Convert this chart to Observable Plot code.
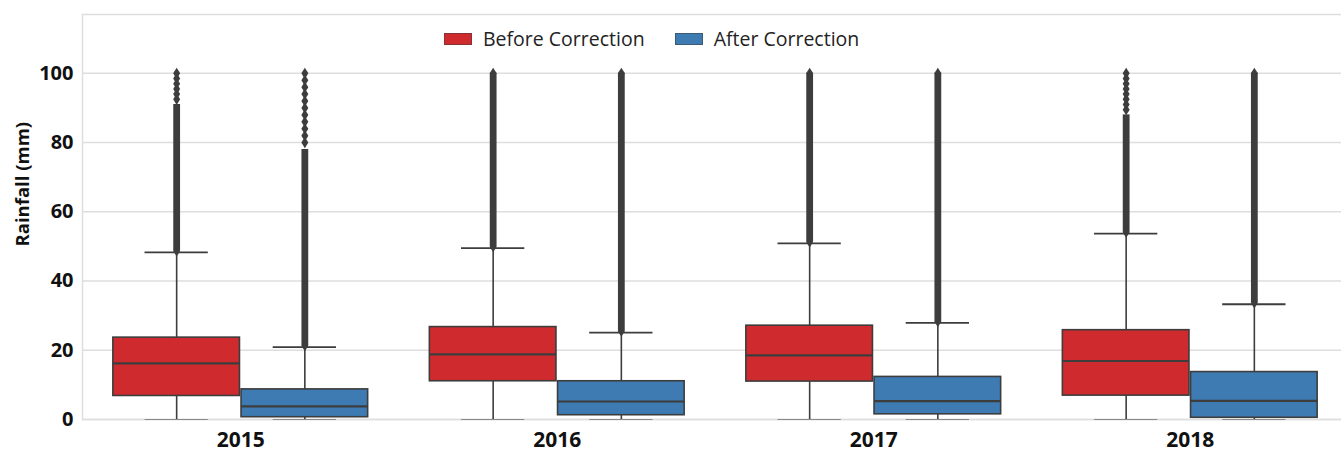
<!DOCTYPE html>
<html>
<head>
<meta charset="utf-8">
<script src="https://cdn.jsdelivr.net/npm/d3@7"></script>
<script src="https://cdn.jsdelivr.net/npm/@observablehq/plot@0.6"></script>
<style>
  html, body { margin: 0; padding: 0; background: #fff; overflow: hidden; }
  #wrap { position: relative; width: 1341px; height: 454px; overflow: hidden; }
  #wrap svg { max-width: none !important; display: block; }
  #legend { position: absolute; top: 25px; left: 444px; display: flex; align-items: center;
            font-family: "Open Sans", sans-serif; font-size: 19.5px; color: #222; }
  #legend .item { display: flex; align-items: center; margin-right: 30px; }
  #legend .sw { width: 28px; height: 12px; margin-right: 11px; box-sizing: border-box; border: 1px solid rgba(60,60,60,0.5); }
</style>
</head>
<body>
<div id="wrap"><div id="legend"></div></div>
<script>
// Yearly rainfall distributions, before and after bias correction
const years = ["2015", "2016", "2017", "2018"];
const series = ["Before Correction", "After Correction"];
const colors = ["#cf2b2f", "#3d7bb2"];

const beforeWhiskerLow = [0, 0, 0, 0];
const beforeQ1 = [6.8, 11.05, 10.96, 6.9];
const beforeMedian = [16.2, 18.8, 18.5, 16.9];
const beforeQ3 = [23.65, 26.7, 27.1, 25.8];
const beforeWhiskerHigh = [48.3, 49.5, 50.9, 53.7];

const afterWhiskerLow = [0, 0, 0, 0];
const afterQ1 = [0.66, 1.24, 1.5, 0.5];
const afterMedian = [3.8, 5.2, 5.3, 5.4];
const afterQ3 = [8.7, 11.05, 12.3, 13.7];
const afterWhiskerHigh = [20.9, 25.1, 27.9, 33.3];

// outliers: continuous run above the upper whisker, then isolated values up to the max
const beforeOutlierRunTop = [91, 100, 100, 88];
const afterOutlierRunTop = [78, 100, 100, 100];
const beforeOutliersSparse = [
  [92.5, 94, 95.5, 97, 98.5, 100],
  [100],
  [100],
  [89.5, 91, 92.5, 94, 95.5, 97, 98.5, 100]
];
const afterOutliersSparse = [
  [80, 82, 84, 86, 88, 90, 92, 94, 96, 98, 100],
  [100],
  [100],
  [100]
];

const yTicks = [0, 20, 40, 60, 80, 100];
const yLabel = "Rainfall (mm)";

// seaborn-style dodge: each hue takes 0.4 of the category width
const dodge = [-0.2025, 0.2025];
const halfWidth = 0.2;

const stats = [
  {low: beforeWhiskerLow, q1: beforeQ1, med: beforeMedian, q3: beforeQ3, high: beforeWhiskerHigh, runTop: beforeOutlierRunTop, sparse: beforeOutliersSparse},
  {low: afterWhiskerLow, q1: afterQ1, med: afterMedian, q3: afterQ3, high: afterWhiskerHigh, runTop: afterOutlierRunTop, sparse: afterOutliersSparse}
];

const boxes = [];
const fliers = [];
years.forEach((year, i) => {
  series.forEach((name, s) => {
    const st = stats[s];
    const cx = i + dodge[s];
    const row = {
      year, series: name, cx,
      x1: cx - halfWidth, x2: cx + halfWidth,
      low: st.low[i], q1: st.q1[i], med: st.med[i], q3: st.q3[i], high: st.high[i],
      runStart: st.high[i] + 0.4, runTop: st.runTop[i]
    };
    boxes.push(row);
    fliers.push({cx, value: row.runStart});
    st.sparse[i].forEach(v => fliers.push({cx, value: v}));
  });
});

// thin diamond flier marker
const thinDiamond = {
  draw(context, size) {
    const r = Math.sqrt(size / Math.PI);
    context.moveTo(0, -1.6 * r);
    context.lineTo(r, 0);
    context.lineTo(0, 1.6 * r);
    context.lineTo(-r, 0);
    context.closePath();
  }
};

const ink = "#3d3d3d";
const gridColor = "#dedede";

const chart = Plot.plot({
  width: 1348,
  height: 454,
  marginTop: 14,
  marginBottom: 35,
  marginLeft: 82,
  marginRight: 0,
  style: {fontFamily: "'Open Sans', sans-serif", background: "transparent", overflow: "hidden", maxWidth: "none"},
  x: {domain: [-0.5, years.length - 0.5], axis: null},
  y: {domain: [0, 117], axis: null},
  color: {domain: series, range: colors},
  marks: [
    Plot.gridY(yTicks, {stroke: gridColor, strokeOpacity: 1, strokeWidth: 1.5}),
    Plot.frame({stroke: gridColor, strokeWidth: 1.5}),
    Plot.axisY(yTicks, {tickSize: 0, tickPadding: 9, fontSize: 20, fontWeight: "bold", fill: "#111", label: null}),
    Plot.axisX(years.map((_, i) => i), {tickFormat: i => years[i], tickSize: 0, tickPadding: 13, fontSize: 21, fontWeight: "bold", fill: "#111", label: null}),
    Plot.text([yLabel], {frameAnchor: "left", y: d3.mean(d3.extent(yTicks)), rotate: -90, dx: -59, fontSize: 18.5, fontWeight: "bold", fill: "#111"}),
    // whiskers
    Plot.ruleX(boxes, {x: "cx", y1: "low", y2: "q1", stroke: ink, strokeWidth: 1.6}),
    Plot.ruleX(boxes, {x: "cx", y1: "q3", y2: "high", stroke: ink, strokeWidth: 1.6}),
    // whisker caps (half the box width)
    Plot.ruleY(boxes, {x1: d => d.cx - halfWidth / 2, x2: d => d.cx + halfWidth / 2, y: "high", stroke: ink, strokeWidth: 1.8}),
    Plot.ruleY(boxes, {x1: d => d.cx - halfWidth / 2, x2: d => d.cx + halfWidth / 2, y: "low", stroke: "#8a8a8a", strokeWidth: 1.2}),
    // boxes
    Plot.rectY(boxes, {x1: "x1", x2: "x2", y1: "q1", y2: "q3", fill: "series", stroke: ink, strokeWidth: 1.6}),
    Plot.ruleY(boxes, {x1: "x1", x2: "x2", y: "med", stroke: ink, strokeWidth: 2.2}),
    // outliers
    Plot.ruleX(boxes, {x: "cx", y1: "runStart", y2: "runTop", stroke: ink, strokeWidth: 6.8}),
    Plot.dot(fliers, {x: "cx", y: "value", r: 3.5, symbol: thinDiamond, fill: ink, stroke: "none"})
  ]
});

const wrap = document.getElementById("wrap");
wrap.insertBefore(chart, wrap.firstChild);

// legend drawn inside the plot area, above the boxes
const legend = document.getElementById("legend");
series.forEach((name, s) => {
  const item = document.createElement("div");
  item.className = "item";
  const sw = document.createElement("div");
  sw.className = "sw";
  sw.style.background = colors[s];
  const label = document.createElement("span");
  label.textContent = name;
  item.appendChild(sw);
  item.appendChild(label);
  legend.appendChild(item);
});
</script>
</body>
</html>
